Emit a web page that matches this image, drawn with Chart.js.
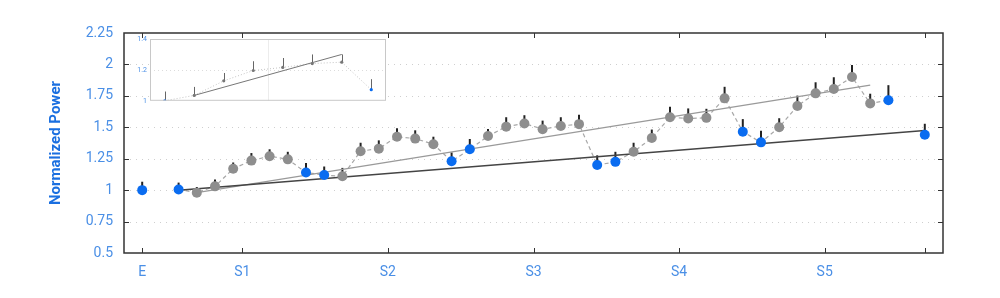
<!DOCTYPE html>
<html>
<head>
<meta charset="utf-8">
<script src="https://cdn.jsdelivr.net/npm/chart.js@4.4.1/dist/chart.umd.min.js"></script>
<style>
  body { margin: 0; background: #fff; }
  #wrap { position: relative; width: 1000px; height: 298px; }
  #main { position: absolute; left: 0; top: 0; }
  #inset { position: absolute; left: 128px; top: 30px; }
</style>
</head>
<body>
<div id="wrap">
  <canvas id="main" width="1000" height="298"></canvas>
  <canvas id="inset" width="262" height="78"></canvas>
</div>
<script>
// --- data ---
const tickPos = [0, 5.5, 13.5, 21.5, 29.5, 37.5, 43];
const tickLabels = ["E", "S1", "S2", "S3", "S4", "S5", ""];
const yTicks = [0.5, 0.75, 1, 1.25, 1.5, 1.75, 2, 2.25];
const yTickLabels = ["0.5", "0.75", "1", "1.25", "1.5", "1.75", "2", "2.25"];

const pointX = [0, 2, 3, 4, 5, 6, 7, 8, 9, 10, 11, 12, 13, 14, 15, 16, 17, 18, 19, 20, 21, 22,
                23, 24, 25, 26, 27, 28, 29, 30, 31, 32, 33, 34, 35, 36, 37, 38, 39, 40, 41, 43];
const power = [1.0, 1.005, 0.98, 1.03, 1.17, 1.235, 1.27, 1.245, 1.14, 1.12, 1.11, 1.31, 1.33, 1.425,
               1.41, 1.365, 1.23, 1.325, 1.43, 1.505, 1.53, 1.485, 1.51, 1.525, 1.20, 1.225, 1.305,
               1.415, 1.58, 1.57, 1.575, 1.73, 1.465, 1.38, 1.50, 1.67, 1.77, 1.805, 1.90, 1.69, 1.715, 1.44];
const errUp = [0.067, 0.055, 0.045, 0.055, 0.05, 0.06, 0.055, 0.06, 0.075, 0.068, 0.067, 0.067, 0.066,
               0.067, 0.066, 0.06, 0.07, 0.082, 0.056, 0.075, 0.066, 0.068, 0.07, 0.074, 0.077, 0.08,
               0.072, 0.067, 0.084, 0.08, 0.072, 0.092, 0.10, 0.092, 0.072, 0.082, 0.088, 0.093, 0.095,
               0.077, 0.12, 0.088];
const baselineX = [0, 2, 9, 10, 17, 18, 25, 26, 33, 34, 41, 43]; // blue points

const pathFrom = 2, pathTo = 41; // dashed connecting line
const trendDark = [{ x: 2, y: 1.0 }, { x: 43, y: 1.475 }];
const trendLight = [{ x: 3, y: 0.98 }, { x: 40, y: 1.835 }];

const insetX = [0, 1, 2, 3, 4, 5, 6, 7];
const insetPower = [1.0, 1.035, 1.129, 1.196, 1.216, 1.241, 1.25, 1.072];
const insetErr = [0.06, 0.055, 0.051, 0.06, 0.061, 0.059, 0.05, 0.068];
const insetBaseline = [0, 7];
const insetTrend = [{ x: 1, y: 1.035 }, { x: 6, y: 1.30 }];
const insetTicks = [1, 1.2, 1.4];
const insetTickLabels = ["1", "1.2", "1.4"];

const BLUE = "#0a6cf0";
const GRAY = "#8e8e8e";
const LABEL = "#4a8fe6";

const pts = pointX.map((x, i) => ({ x: x, y: power[i] }));
const pathPts = pts.filter(p => p.x >= pathFrom && p.x <= pathTo);
const ptColors = pointX.map(x => baselineX.includes(x) ? BLUE : GRAY);

// gridlines, error bars, box and inward ticks
const framePlugin = {
  id: "frame",
  beforeDatasetsDraw(chart) {
    const { ctx, chartArea: a, scales: { x, y } } = chart;
    ctx.save();
    ctx.strokeStyle = "#cfcfcf";
    ctx.lineWidth = 1;
    ctx.setLineDash([1, 5]);
    yTicks.slice(1, -1).forEach(v => {
      const py = Math.round(y.getPixelForValue(v)) + 0.5;
      ctx.beginPath(); ctx.moveTo(a.left, py); ctx.lineTo(a.right, py); ctx.stroke();
    });
    ctx.setLineDash([]);
    ctx.strokeStyle = "#222";
    ctx.lineWidth = 2;
    pointX.forEach((xv, i) => {
      const px = x.getPixelForValue(xv);
      ctx.beginPath();
      ctx.moveTo(px, y.getPixelForValue(power[i]));
      ctx.lineTo(px, y.getPixelForValue(power[i] + errUp[i]));
      ctx.stroke();
    });
    ctx.restore();
  },
  afterDraw(chart) {
    const { ctx, chartArea: a, scales: { x, y } } = chart;
    ctx.save();
    ctx.strokeStyle = "#333";
    ctx.lineWidth = 1.5;
    ctx.strokeRect(a.left, a.top, a.right - a.left, a.bottom - a.top);
    ctx.lineWidth = 1;
    ctx.beginPath();
    tickPos.forEach(v => {
      const px = Math.round(x.getPixelForValue(v)) + 0.5;
      ctx.moveTo(px, a.bottom); ctx.lineTo(px, a.bottom - 5);
      ctx.moveTo(px, a.top); ctx.lineTo(px, a.top + 5);
    });
    yTicks.slice(1, -1).forEach(v => {
      const py = Math.round(y.getPixelForValue(v)) + 0.5;
      ctx.moveTo(a.left, py); ctx.lineTo(a.left + 5, py);
      ctx.moveTo(a.right, py); ctx.lineTo(a.right - 5, py);
    });
    ctx.stroke();
    ctx.restore();
  }
};

new Chart(document.getElementById("main"), {
  type: "scatter",
  data: {
    datasets: [
      { data: pts, pointRadius: 5, pointHoverRadius: 5, pointBackgroundColor: ptColors, pointBorderWidth: 0, showLine: false, order: 0 },
      { type: "line", data: pathPts, borderColor: "#a8a8a8", borderWidth: 1.2, borderDash: [4, 3], pointRadius: 0, order: 3 },
      { type: "line", data: trendLight, borderColor: "#9a9a9a", borderWidth: 1.3, pointRadius: 0, order: 2 },
      { type: "line", data: trendDark, borderColor: "#444", borderWidth: 1.5, pointRadius: 0, order: 1 }
    ]
  },
  options: {
    responsive: false,
    animation: false,
    devicePixelRatio: 1,
    layout: { padding: { top: 33, right: 57, bottom: 0, left: 0 } },
    plugins: { legend: { display: false }, tooltip: { enabled: false } },
    scales: {
      x: {
        type: "linear", min: -1, max: 44,
        grid: { display: false, drawTicks: false }, border: { display: false },
        afterBuildTicks: s => { s.ticks = tickPos.map(v => ({ value: v })); },
        afterFit: s => { s.height = 45; },
        ticks: { autoSkip: false, maxRotation: 0, padding: 11, color: LABEL,
                 font: { family: "Roboto", size: 14 }, callback: (v, i) => tickLabels[i] }
      },
      y: {
        min: 0.5, max: 2.25,
        grid: { display: false, drawTicks: false }, border: { display: false },
        afterBuildTicks: s => { s.ticks = yTicks.map(v => ({ value: v })); },
        afterFit: s => { s.width = 124; },
        ticks: { padding: 11, color: LABEL, font: { family: "Roboto", size: 14 },
                 callback: (v, i) => yTickLabels[i] },
        title: { display: true, text: "Normalized Power", color: "#1a6fe0",
                 font: { family: "Roboto", size: 15, weight: "bold" }, padding: { top: 47, bottom: 0 } }
      }
    }
  },
  plugins: [framePlugin]
});

// --- inset ---
const insetPlugin = {
  id: "insetFrame",
  beforeDatasetsDraw(chart) {
    const { ctx, chartArea: a, scales: { x, y } } = chart;
    ctx.save();
    ctx.fillStyle = "#fff";
    ctx.fillRect(a.left, a.top, a.right - a.left, a.bottom - a.top);
    ctx.strokeStyle = "#ececec";
    ctx.lineWidth = 1;
    const vx = Math.round(x.getPixelForValue(3.5)) + 0.5;
    ctx.beginPath(); ctx.moveTo(vx, a.top); ctx.lineTo(vx, a.bottom); ctx.stroke();
    ctx.strokeStyle = "#dcdcdc";
    ctx.setLineDash([1, 3]);
    const gy = Math.round(y.getPixelForValue(1.2)) + 0.5;
    ctx.beginPath(); ctx.moveTo(a.left, gy); ctx.lineTo(a.right, gy); ctx.stroke();
    ctx.setLineDash([]);
    ctx.strokeStyle = "#666";
    insetX.forEach((xv, i) => {
      const px = Math.round(x.getPixelForValue(xv)) + 0.5;
      ctx.beginPath();
      ctx.moveTo(px, y.getPixelForValue(insetPower[i]));
      ctx.lineTo(px, y.getPixelForValue(insetPower[i] + insetErr[i]));
      ctx.stroke();
    });
    ctx.restore();
  },
  afterDraw(chart) {
    const { ctx, chartArea: a } = chart;
    ctx.save();
    ctx.strokeStyle = "#c8c8c8";
    ctx.lineWidth = 1;
    ctx.strokeRect(a.left + 0.5, a.top + 0.5, a.right - a.left - 1, a.bottom - a.top - 1);
    ctx.restore();
  }
};

new Chart(document.getElementById("inset"), {
  type: "scatter",
  data: {
    datasets: [
      { data: insetX.map((x, i) => ({ x: x, y: insetPower[i] })), pointRadius: 1.6, pointBorderWidth: 0,
        pointBackgroundColor: insetX.map(x => insetBaseline.includes(x) ? BLUE : "#777"),
        showLine: true, borderColor: "#c4c4c4", borderWidth: 1, borderDash: [1, 2], order: 1 },
      { type: "line", data: insetTrend, borderColor: "#777", borderWidth: 1, pointRadius: 0, order: 0 }
    ]
  },
  options: {
    responsive: false,
    animation: false,
    devicePixelRatio: 1,
    layout: { padding: { top: 9, right: 3, bottom: 4, left: 0 } },
    plugins: { legend: { display: false }, tooltip: { enabled: false } },
    scales: {
      x: { type: "linear", min: -0.5, max: 7.5, display: false },
      y: {
        min: 1, max: 1.4,
        grid: { display: false, drawTicks: false }, border: { display: false },
        afterBuildTicks: s => { s.ticks = insetTicks.map(v => ({ value: v })); },
        afterFit: s => { s.width = 22; },
        ticks: { padding: 3, color: LABEL, font: { family: "Roboto", size: 7 },
                 callback: (v, i) => insetTickLabels[i] }
      }
    }
  },
  plugins: [insetPlugin]
});
</script>
</body>
</html>
